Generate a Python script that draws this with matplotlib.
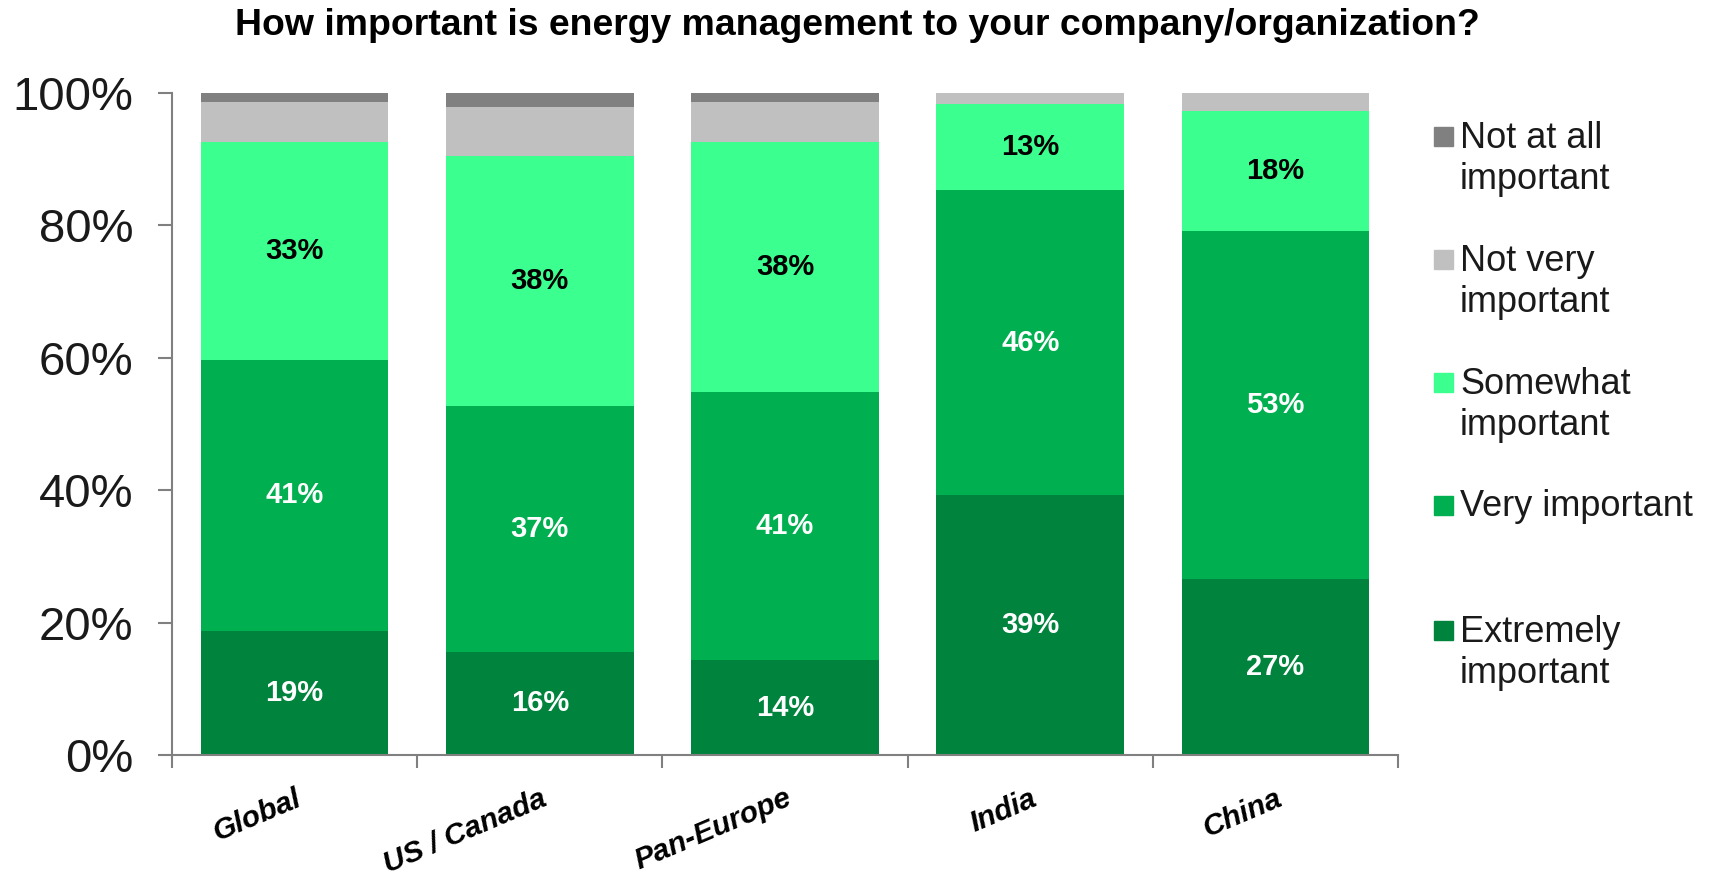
import numpy as np
import matplotlib.pyplot as plt
from matplotlib.patches import Rectangle

plt.rcParams['font.family'] = ['Liberation Sans', 'DejaVu Sans']

regions = ['Global', 'US / Canada', 'Pan-Europe', 'India', 'China']

# shares per answer, bottom to top [%]
extremely = [18.8, 15.6, 14.3, 39.2, 26.6]
very = [40.9, 37.1, 40.6, 46.1, 52.6]
somewhat = [32.9, 37.8, 37.7, 13.0, 18.1]
not_very = [6.0, 7.4, 6.1, 1.7, 2.7]
not_at_all = [1.4, 2.1, 1.3, 0.0, 0.0]

series = [extremely, very, somewhat, not_very, not_at_all]
names = ['Extremely\nimportant', 'Very important', 'Somewhat\nimportant',
         'Not very\nimportant', 'Not at all\nimportant']
colors = ['#00843D', '#00B050', '#3BFF8E', '#C0C0C0', '#808080']
label_colors = ['white', 'white', 'black', None, None]

W, H = 1715, 880
fig = plt.figure(figsize=(W / 100, H / 100), dpi=100)
ax = fig.add_axes([172 / W, 1 - 755 / H, 1226 / W, 662 / H])

x = np.arange(len(regions))
bottom = np.zeros(len(regions))
for vals, col, lc in zip(series, colors, label_colors):
    vals = np.array(vals)
    ax.bar(x, vals, width=0.765, bottom=bottom, color=col, linewidth=0)
    if lc is not None:
        for xi, b, v in zip(x, bottom, vals):
            ax.text(xi, b + v / 2, f'{round(v)}%', ha='center', va='center',
                    color=lc, fontsize=21, fontweight='bold')
    bottom += vals

ax.set_xlim(-0.5, len(regions) - 0.5)
ax.set_ylim(0, 100)
ax.set_yticks(np.arange(0, 101, 20))
ax.set_yticklabels([f'{v}%' for v in range(0, 101, 20)])
ax.tick_params(axis='y', length=10, width=1.5, color='#808080', pad=18,
               labelsize=34, labelcolor='#1a1a1a')

ax.set_xticks(x)
ax.set_xticklabels(regions, rotation=23, ha='right', rotation_mode='anchor',
                   fontsize=21.5, fontweight='bold', fontstyle='italic')
ax.set_xticks(np.arange(-0.5, len(regions)), minor=True)
ax.tick_params(axis='x', which='major', length=0, pad=21)
ax.tick_params(axis='x', which='minor', length=9.5, width=1.5, color='#808080')

for s in ['top', 'right']:
    ax.spines[s].set_visible(False)
for s in ['left', 'bottom']:
    ax.spines[s].set_color('#808080')
    ax.spines[s].set_linewidth(1.5)

fig.suptitle('How important is energy management to your company/organization?',
             x=0.5, y=1 - 8 / H, va='top', fontsize=26.9, fontweight='bold')

# legend, top entry first
leg_y = [137, 260, 383, 505, 631]
for yy, name, col in zip(leg_y, names[::-1], colors[::-1]):
    fig.patches.append(Rectangle((1434 / W, 1 - (yy + 9.5) / H), 19 / W, 19 / H,
                                 transform=fig.transFigure, color=col))
    fig.text(1460 / W, 1 - (yy - 16) / H, name, ha='left', va='top',
             fontsize=26, linespacing=1.24, color='#1a1a1a')

plt.savefig('out.png', dpi=100)
